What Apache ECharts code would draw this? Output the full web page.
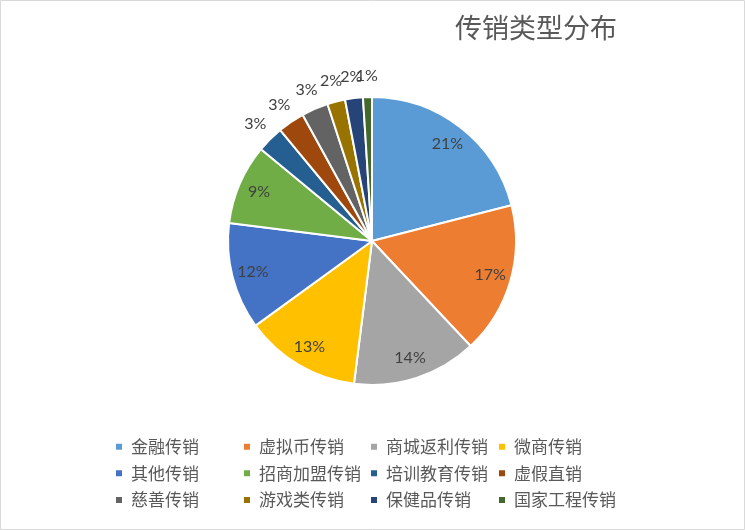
<!DOCTYPE html>
<html>
<head>
<meta charset="utf-8">
<script src="https://cdn.jsdelivr.net/npm/echarts@6/dist/echarts.min.js"></script>
<style>
html,body{margin:0;padding:0;background:#fff;}
#chart{width:745px;height:530px;}
</style>
</head>
<body>
<div id="chart"></div>
<script>
const titleText = '传销类型分布';
const categories = ['金融传销','虚拟币传销','商城返利传销','微商传销','其他传销','招商加盟传销','培训教育传销','虚假直销','慈善传销','游戏类传销','保健品传销','国家工程传销'];
const values = [21,17,14,13,12,9,3,3,3,2,2,1];
const colors = ['#5B9BD5','#ED7D31','#A5A5A5','#FFC000','#4472C4','#70AD47','#255E91','#9E480E','#636363','#997300','#264478','#43682B'];
const outsideLabelFrom = 6; // slices from this index carry their label outside

const chart = echarts.init(document.getElementById('chart'), null, {renderer: 'canvas'});

const center = [372, 241];
const baseData = categories.map((n, i) => ({name: n, value: values[i]}));
function overlayData(showFn) {
  return categories.map((n, i) => ({name: n, value: values[i], label: {show: showFn(i)}}));
}
const overlayCommon = {
  type: 'pie',
  center: center,
  startAngle: 90,
  clockwise: true,
  silent: true,
  legendHoverLink: false,
  avoidLabelOverlap: false,
  animation: false,
  itemStyle: {color: 'rgba(0,0,0,0)', borderWidth: 0},
  labelLine: {show: false},
  emphasis: {disabled: true},
  labelLayout: {hideOverlap: false},
  label: {
    position: 'inside',
    formatter: '{c}%',
    color: '#404040',
    fontFamily: 'Lato',
    fontSize: 16
  }
};

// legend columns
const colLefts = [114, 242, 369, 497];
const legends = colLefts.map((left, c) => ({
  orient: 'vertical',
  left: left,
  top: 438.2,
  padding: 0,
  itemWidth: 8,
  itemHeight: 8,
  itemGap: 9.67,
  icon: 'rect',
  selectedMode: false,
  data: [categories[c], categories[c + 4], categories[c + 8]],
  textStyle: {color: '#595959', fontSize: 17, lineHeight: 17, fontFamily: 'Noto Sans CJK SC', padding: [0, 0, 0, 3]}
}));

chart.setOption({
  animation: false,
  color: colors,
  title: {
    text: titleText,
    left: 455,
    top: 14,
    padding: 0,
    textStyle: {color: '#595959', fontSize: 27, fontWeight: 'normal', fontFamily: 'Noto Sans CJK SC'}
  },
  legend: legends,
  graphic: [{
    type: 'rect',
    shape: {x: 0.5, y: 0.5, width: 744, height: 529},
    style: {fill: 'none', stroke: '#d9d9d9', lineWidth: 1},
    silent: true
  }],
  series: [
    {
      type: 'pie',
      center: center,
      radius: [0, 144],
      startAngle: 90,
      clockwise: true,
      avoidLabelOverlap: false,
      label: {show: false},
      labelLine: {show: false},
      itemStyle: {borderColor: '#ffffff', borderWidth: 2},
      data: baseData
    },
    Object.assign({}, overlayCommon, {
      radius: [0, 240],
      data: overlayData(i => i < outsideLabelFrom)
    }),
    Object.assign({}, overlayCommon, {
      radius: [0, 324],
      data: overlayData(i => i >= outsideLabelFrom && i !== 10)
    }),
    Object.assign({}, overlayCommon, {
      radius: [0, 324],
      data: overlayData(i => i === 10)
    })
  ]
});
</script>
</body>
</html>
